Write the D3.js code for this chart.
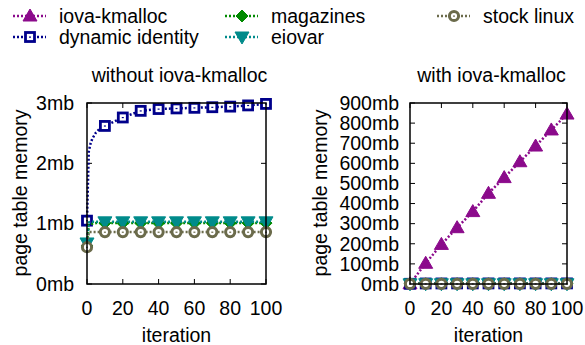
<!DOCTYPE html>
<html>
<head>
<meta charset="utf-8">
<script src="https://cdn.jsdelivr.net/npm/d3@7"></script>
<style>
  body { margin: 0; background: #fff; }
  svg text { font-family: "Liberation Sans", Arial, Helvetica, sans-serif; fill: #000; }
</style>
</head>
<body>
<div class="container"></div>
<script>
//=================================================
// Data (memory in mb)
//=================================================
var markIter = [0, 10, 20, 30, 40, 50, 60, 70, 80, 90, 100];
var iter = [0, 1, 2, 3, 5, 7, 10, 20, 30, 40, 50, 60, 70, 80, 90, 100];

var iovaKmalloc = [1, 103, 197, 280, 360, 451, 529, 608, 686, 766, 845];
var dynamicIdentity = [1.05, 2.2, 2.33, 2.41, 2.51, 2.57, 2.62, 2.76, 2.87, 2.9, 2.91, 2.92, 2.93, 2.94, 2.96, 2.985];
var magazines = [0.63, 0.98, 1.0, 1.0, 1.01, 1.01, 1.01, 1.01, 1.01, 1.01, 1.01, 1.01, 1.01, 1.01, 1.01, 1.01];
var eiovar = [0.68, 1.02, 1.03, 1.03, 1.03, 1.03, 1.03, 1.03, 1.03, 1.03, 1.03, 1.03, 1.03, 1.03, 1.03, 1.03];
var stockLinux = [0.61, 0.86, 0.86, 0.86, 0.86, 0.86, 0.86, 0.86, 0.86, 0.86, 0.86, 0.86, 0.86, 0.86, 0.86, 0.86];

var xTicks = [0, 20, 40, 60, 80, 100];
var yTicksLeft = [0, 1, 2, 3];
var yTicksRight = [0, 100, 200, 300, 400, 500, 600, 700, 800, 900];

var series = [
  { name: "iova-kmalloc", x: markIter, y: iovaKmalloc, color: "#8b0a8b", shape: "tri" },
  { name: "dynamic identity", x: iter, y: dynamicIdentity, color: "#00008b", shape: "square" },
  { name: "magazines", x: iter, y: magazines, color: "#008a00", shape: "diamond" },
  { name: "eiovar", x: iter, y: eiovar, color: "#008b8b", shape: "tridown" },
  { name: "stock linux", x: iter, y: stockLinux, color: "#6b6b4b", shape: "circle" }
];

var width = 585, height = 345, fs = 19.5;

const svg = d3.select(".container").
append("svg").
attr("width", width).
attr("height", height);

//=================================================
// marker drawing
//=================================================
function marker(g, shape, color, cx, cy) {
  if (shape == "tri") {
    g.append("path").attr("d", "M" + (cx - 7) + "," + (cy + 5) + "L" + (cx + 7) + "," + (cy + 5) + "L" + cx + "," + (cy - 7) + "Z").
    attr("fill", color).attr("stroke", color).attr("stroke-width", 1);
  } else if (shape == "tridown") {
    g.append("path").attr("d", "M" + (cx - 7) + "," + (cy - 5) + "L" + (cx + 7) + "," + (cy - 5) + "L" + cx + "," + (cy + 7) + "Z").
    attr("fill", color).attr("stroke", color).attr("stroke-width", 1);
  } else if (shape == "diamond") {
    g.append("path").attr("d", "M" + cx + "," + (cy - 6) + "L" + (cx + 6) + "," + cy + "L" + cx + "," + (cy + 6) + "L" + (cx - 6) + "," + cy + "Z").
    attr("fill", color).attr("stroke", color).attr("stroke-width", 1);
  } else if (shape == "square") {
    g.append("rect").attr("x", cx - 4.5).attr("y", cy - 4.5).attr("width", 9).attr("height", 9).
    attr("fill", "#fff").attr("stroke", color).attr("stroke-width", 2.8);
    g.append("rect").attr("x", cx - 1).attr("y", cy - 0.5).attr("width", 2).attr("height", 1.2).attr("fill", color);
  } else if (shape == "circle") {
    g.append("circle").attr("cx", cx).attr("cy", cy).attr("r", 4.6).
    attr("fill", "#fff").attr("stroke", color).attr("stroke-width", 3);
    g.append("rect").attr("x", cx - 1).attr("y", cy - 0.5).attr("width", 2).attr("height", 1.2).attr("fill", color);
  }
}

//=================================================
// Legend
//=================================================
var legendPos = [[13, 16], [13, 37], [225, 16], [225, 37], [437, 16]];
series.forEach(function (s, i) {
  var lx = legendPos[i][0], ly = legendPos[i][1];
  var g = svg.append("g");
  g.append("line").attr("x1", lx).attr("x2", lx + 33).attr("y1", ly).attr("y2", ly).
  attr("stroke", s.color).attr("stroke-width", 2.5).attr("stroke-dasharray", "2,2");
  marker(g, s.shape, s.color, lx + 17, ly);
  g.append("text").attr("x", lx + 46).attr("y", ly).attr("dy", "0.35em").
  style("font-size", fs + "px").text(s.name);
});

//=================================================
// One panel
//=================================================
function panel(opt) {
  var x = d3.scaleLinear().domain([0, 100]).range([opt.left, opt.right]);
  var y = d3.scaleLinear().domain(opt.yDomain).range([284, 103]);
  var g = svg.append("g");

  // title
  g.append("text").attr("x", (opt.left + opt.right) / 2 + 3).attr("y", 75).attr("dy", "0.35em").
  attr("text-anchor", "middle").style("font-size", fs + "px").text(opt.title);

  // ticks inside frame
  xTicks.forEach(function (t) {
    g.append("line").attr("x1", x(t)).attr("x2", x(t)).attr("y1", 284).attr("y2", 279).attr("stroke", "#000");
    g.append("line").attr("x1", x(t)).attr("x2", x(t)).attr("y1", 103).attr("y2", 108).attr("stroke", "#000");
    g.append("text").attr("x", x(t)).attr("y", 308).attr("dy", "0.35em").attr("text-anchor", "middle").
    style("font-size", fs + "px").text(t);
  });
  opt.yTicks.forEach(function (t) {
    g.append("line").attr("x1", opt.left).attr("x2", opt.left + 5).attr("y1", y(t)).attr("y2", y(t)).attr("stroke", "#000");
    g.append("line").attr("x1", opt.right).attr("x2", opt.right - 5).attr("y1", y(t)).attr("y2", y(t)).attr("stroke", "#000");
    g.append("text").attr("x", opt.left - opt.labGap).attr("y", y(t)).attr("dy", "0.35em").attr("text-anchor", "end").
    style("font-size", fs + "px").text(t + "mb");
  });

  // axis titles
  g.append("text").attr("x", (opt.left + opt.right) / 2).attr("y", 335).attr("dy", "0.35em").
  attr("text-anchor", "middle").style("font-size", fs + "px").text("iteration");
  g.append("text").attr("transform", "translate(" + opt.yLabX + ",193) rotate(-90)").attr("dy", "0.35em").
  attr("text-anchor", "middle").style("font-size", fs + "px").text("page table memory");

  // series
  var line = d3.line().x(d => x(d[0])).y(d => y(d[1]));
  opt.series.forEach(function (s) {
    var pts = s.x.map((v, i) => [v, s.y[i]]);
    g.append("path").datum(pts).attr("d", line).attr("fill", "none").
    attr("stroke", s.color).attr("stroke-width", 2.5).attr("stroke-dasharray", "2,2");
    pts.filter(d => d[0] % 10 == 0).forEach(function (d) {
      marker(g, s.shape, s.color, x(d[0]), y(d[1]));
    });
  });

  // frame
  g.append("rect").attr("x", opt.left).attr("y", 103).attr("width", opt.right - opt.left).attr("height", 181).
  attr("fill", "none").attr("stroke", "#000").attr("stroke-width", 1.5);
}

panel({ left: 87, right: 266, yDomain: [0, 3], yTicks: yTicksLeft, labGap: 13, yLabX: 20,
  title: "without iova-kmalloc", series: series.slice(1) });
panel({ left: 410, right: 567, yDomain: [0, 900], yTicks: yTicksRight, labGap: 11, yLabX: 320,
  title: "with iova-kmalloc", series: series });
</script>
</body>
</html>
